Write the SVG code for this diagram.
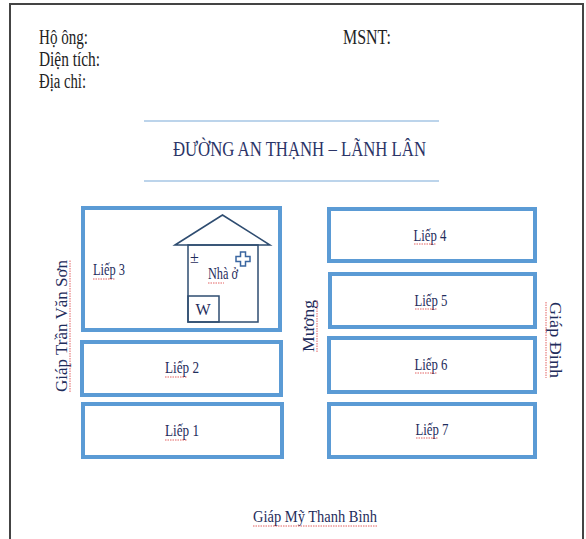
<svg xmlns="http://www.w3.org/2000/svg" width="586" height="539" viewBox="0 0 586 539">
<style>
.hdr{font-family:"Liberation Serif","Times New Roman",serif;font-size:20px;fill:#222;}
.ttl{font-family:"Liberation Serif","Times New Roman",serif;font-size:21px;fill:#2b3467;}
.lbl{font-family:"Liberation Serif","Times New Roman",serif;font-size:16px;fill:#1f2d5c;}
.side{font-family:"Liberation Serif","Times New Roman",serif;font-size:17px;fill:#1f2d5c;}
.plot{fill:#fff;stroke:#5b9bd5;stroke-width:4;}
.house{fill:none;stroke:#2e4c70;stroke-width:1.5;}
.rule{stroke:#7aaad8;stroke-width:1.2;}
.sq{stroke:#e05050;stroke-width:0.9;stroke-dasharray:1.5 1;fill:none;}
</style>
<rect x="0" y="0" width="586" height="539" fill="#fff"/>
<rect x="10" y="4" width="573" height="600" fill="none" stroke="#444" stroke-width="2"/>

<g id="header">
<text class="hdr" x="39" y="44" textLength="49" lengthAdjust="spacingAndGlyphs">Hộ ông:</text>
<text class="hdr" x="39" y="66" textLength="61" lengthAdjust="spacingAndGlyphs">Diện tích:</text>
<text class="hdr" x="39" y="88" textLength="47" lengthAdjust="spacingAndGlyphs">Địa chỉ:</text>
<text class="hdr" x="343" y="44" textLength="48" lengthAdjust="spacingAndGlyphs">MSNT:</text>
</g>

<g id="road">
<line class="rule" x1="144" y1="121" x2="439" y2="121"/>
<text class="ttl" x="173" y="156" textLength="253" lengthAdjust="spacingAndGlyphs">ĐƯỜNG AN THẠNH – LÃNH LÂN</text>
<line class="rule" x1="144" y1="181" x2="439" y2="181"/>
</g>

<g id="liep3">
<rect class="plot" x="83" y="208" width="197" height="122"/>
<text class="lbl" x="93" y="275" textLength="32" lengthAdjust="spacingAndGlyphs">Liếp 3</text>
<path class="sq" d="M93,279 h22"/>
</g>

<g id="house">
<polygon class="house" points="175,245 222.5,215 270,245"/>
<rect class="house" x="188" y="245" width="70" height="77"/>
<rect class="house" x="188" y="296" width="31" height="26"/>
<text class="lbl" x="203" y="315" text-anchor="middle" font-size="14">W</text>
<text class="lbl" x="190" y="263" font-size="14">±</text>
<text class="lbl" x="208" y="279" font-size="15" textLength="30" lengthAdjust="spacingAndGlyphs">Nhà ở</text>
<path class="sq" d="M208,283 h16"/>
<path d="M240.5,252 h5 v4.5 h4.5 v5 h-4.5 v4.5 h-5 v-4.5 h-4.5 v-5 h4.5 z" fill="none" stroke="#3a66a0" stroke-width="1.5"/>
</g>

<g id="liep2">
<rect class="plot" x="82" y="342" width="199" height="53"/>
<text class="lbl" x="182" y="373" text-anchor="middle" textLength="34" lengthAdjust="spacingAndGlyphs">Liếp 2</text>
<path class="sq" d="M165,377 h22"/>
</g>

<g id="liep1">
<rect class="plot" x="83" y="404" width="199" height="53"/>
<text class="lbl" x="182" y="436" text-anchor="middle" textLength="34" lengthAdjust="spacingAndGlyphs">Liếp 1</text>
<path class="sq" d="M165,440 h22"/>
</g>

<g id="liep4">
<rect class="plot" x="329" y="209" width="206" height="52"/>
<text class="lbl" x="430" y="241" text-anchor="middle" textLength="33" lengthAdjust="spacingAndGlyphs">Liếp 4</text>
<path class="sq" d="M414,244 h22"/>
</g>

<g id="liep5">
<rect class="plot" x="330" y="274" width="205" height="53"/>
<text class="lbl" x="431" y="306" text-anchor="middle" textLength="33" lengthAdjust="spacingAndGlyphs">Liếp 5</text>
<path class="sq" d="M415,309 h22"/>
</g>

<g id="liep6">
<rect class="plot" x="329" y="338" width="206" height="54"/>
<text class="lbl" x="431" y="370" text-anchor="middle" textLength="33" lengthAdjust="spacingAndGlyphs">Liếp 6</text>
<path class="sq" d="M415,373 h22"/>
</g>

<g id="liep7">
<rect class="plot" x="329" y="404" width="206" height="53"/>
<text class="lbl" x="432" y="435" text-anchor="middle" textLength="33" lengthAdjust="spacingAndGlyphs">Liếp 7</text>
<path class="sq" d="M416,438 h22"/>
</g>

<g id="borders">
<g transform="translate(61,326) rotate(-90)">
<text class="side" x="0" y="0" text-anchor="middle" dominant-baseline="central" textLength="132" lengthAdjust="spacingAndGlyphs">Giáp  Trần  Văn  Sơn</text>
<path class="sq" d="M-66,9 h132"/>
</g>
<g transform="translate(308,326) rotate(-90)">
<text class="side" x="0" y="0" text-anchor="middle" dominant-baseline="central" textLength="52" lengthAdjust="spacingAndGlyphs">Mương</text>
<path class="sq" d="M-26,9 h52"/>
</g>
<g transform="translate(555,340) rotate(90)">
<text class="side" x="0" y="0" text-anchor="middle" dominant-baseline="central" textLength="76" lengthAdjust="spacingAndGlyphs">Giáp  Đinh</text>
<path class="sq" d="M-38,9 h76"/>
</g>
<text class="lbl" x="253" y="522" font-size="17" textLength="124" lengthAdjust="spacingAndGlyphs">Giáp Mỹ Thanh Bình</text>
<path class="sq" d="M253,526 h124"/>
</g>
</svg>
